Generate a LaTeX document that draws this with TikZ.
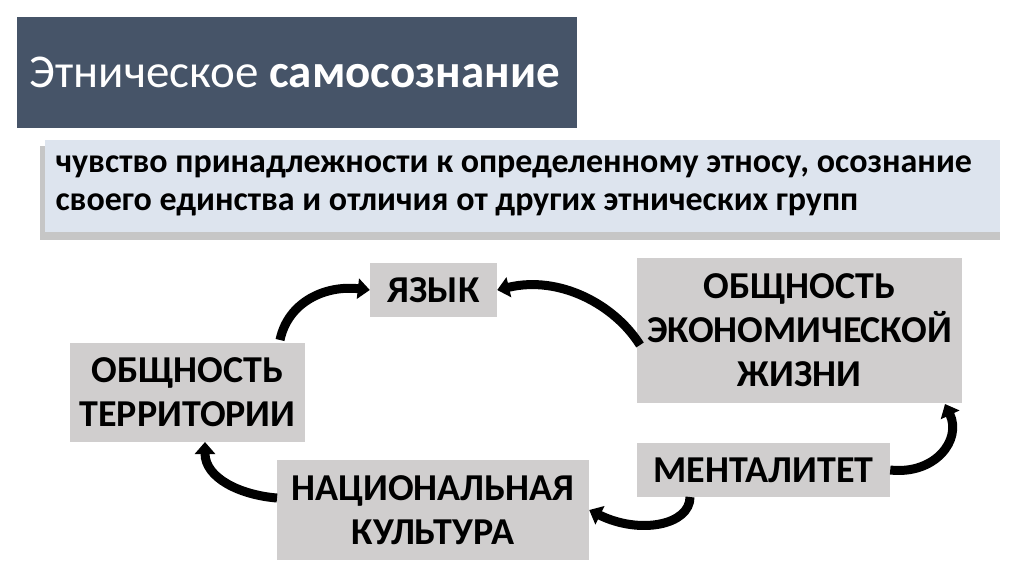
\documentclass[tikz,border=0pt]{standalone}
\usepackage{fontspec}
\setmainfont{Carlito}
\usetikzlibrary{arrows.meta}
\definecolor{slate}{HTML}{465468}
\definecolor{defbg}{HTML}{DDE4EE}
\definecolor{boxgray}{HTML}{D0CECE}
\tikzset{
  gbox/.style={fill=boxgray, inner sep=0pt},
  gtext/.style={inner sep=0pt, align=center, font=\fontsize{38}{44}\selectfont\bfseries},
  band/.style={line width=9pt, black, -{Triangle[length=12pt,width=20pt]}},
}
\begin{document}
\begin{tikzpicture}[x=1pt,y=-1pt]
\useasboundingbox (0,0) rectangle (1024,574);
% title
\node[fill=slate, minimum width=560pt, minimum height=111pt, anchor=north west, inner sep=0pt] (title) at (17,17) {};
\node[anchor=west, text=white, font=\fontsize{47}{56}\selectfont] (tt) at (26,72) {Этническое \textbf{самосознание}};
% definition
\fill[gray!45] (40,146) rectangle (1000,240);
\node[fill=defbg, minimum width=955pt, minimum height=92pt, anchor=north west, inner sep=0pt] (def) at (45,140) {};
\node[anchor=west, align=left, font=\fontsize{34}{38}\selectfont\bfseries] (dt) at (52,186)
  {чувство принадлежности к определенному этносу, осознание\\своего единства и отличия от других этнических групп};
% boxes
\node[gbox, minimum width=127pt, minimum height=54pt] (lang) at (433.5,290) {};
\node[gtext] (langt) at (lang.center) {ЯЗЫК};
\node[gbox, minimum width=325pt, minimum height=145pt] (econ) at (799.5,330.5) {};
\node[gtext] (econt) at (econ.center) {ОБЩНОСТЬ\\ЭКОНОМИЧЕСКОЙ\\ЖИЗНИ};
\node[gbox, minimum width=235pt, minimum height=99pt] (terr) at (187.5,392.5) {};
\node[gtext] (terrt) at (terr.center) {ОБЩНОСТЬ\\ТЕРРИТОРИИ};
\node[gbox, minimum width=312pt, minimum height=100pt] (cult) at (433,510) {};
\node[gtext] (cultt) at (cult.center) {НАЦИОНАЛЬНАЯ\\КУЛЬТУРА};
\node[gbox, minimum width=253pt, minimum height=54pt] (ment) at (763.5,470) {};
\node[gtext] (mentt) at (ment.center) {МЕНТАЛИТЕТ};
% connectors
\coordinate (a1) at (280,340);
\coordinate (a2) at (640,345);
\coordinate (a3) at (690,497);
\coordinate (a5) at (277,498);
\coordinate (a4) at (945,404);
\coordinate (a6) at (205,442);
\draw[band] (a1) .. controls (288,302) and (325,285) .. (lang.west);
\draw[band] (a2) .. controls (615,305) and (560,275) .. (lang.east);
\draw[band] (ment.east) .. controls (935,475) and (962,440) .. (a4);
\draw[band] (a3) .. controls (690,525) and (640,535) .. (cult.east);
\draw[band] (a5) .. controls (240,495) and (205,478) .. (a6);
\end{tikzpicture}
\end{document}
